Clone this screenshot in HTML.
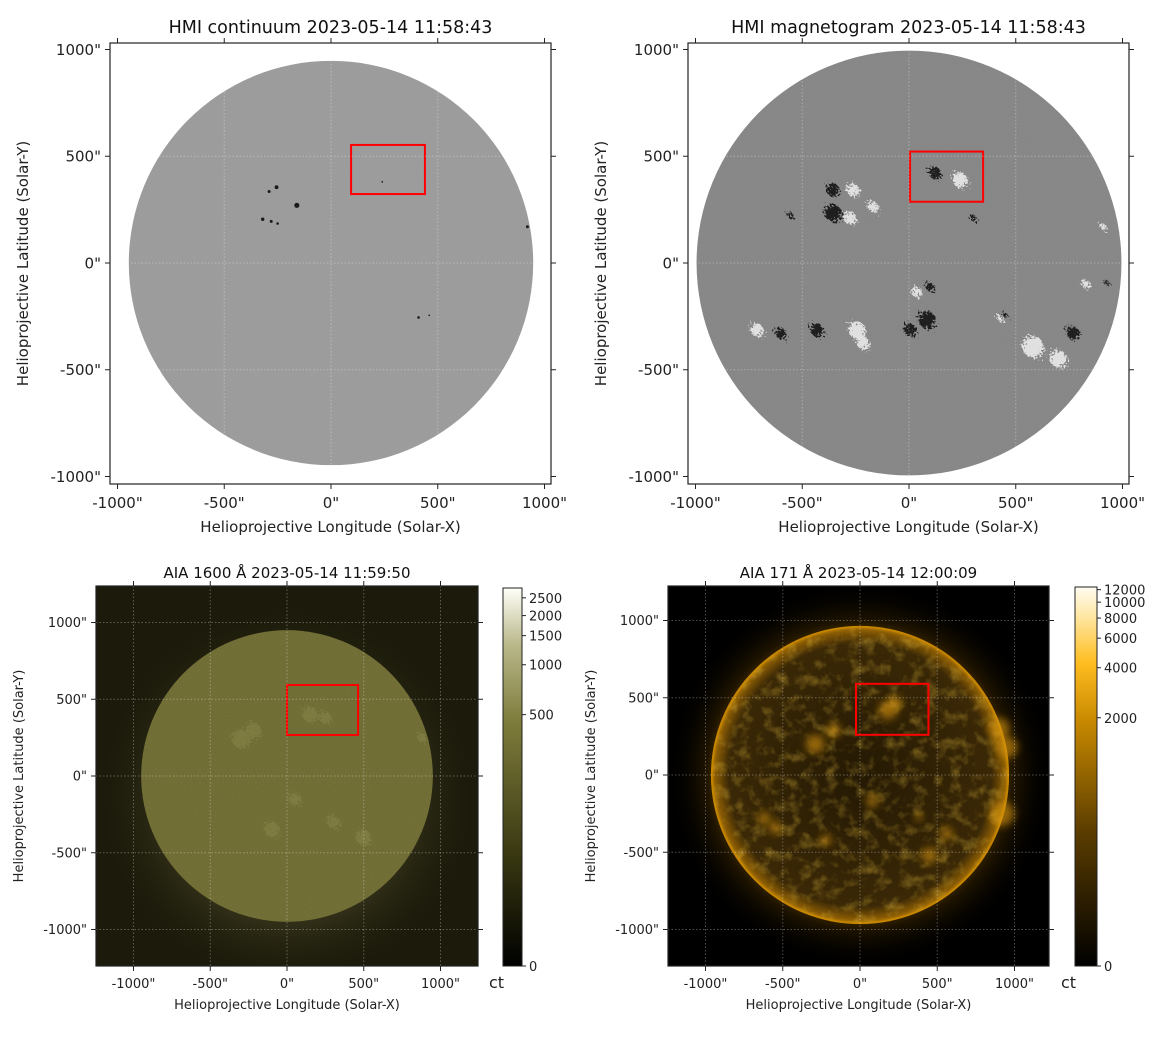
<!DOCTYPE html>
<html><head><meta charset="utf-8">
<style>
html,body{margin:0;padding:0;background:#fff;}
svg{display:block;font-family:"DejaVu Sans","Liberation Sans",sans-serif;}
</style></head>
<body>
<svg id="fig" width="1174" height="1040" viewBox="0 0 1174 1040" xmlns="http://www.w3.org/2000/svg">
<defs>
  <radialGradient id="g171" cx="0.5" cy="0.5" r="0.5">
    <stop offset="0" stop-color="#241904"/>
    <stop offset="0.88" stop-color="#3a2806"/>
    <stop offset="0.97" stop-color="#8a5c04"/>
    <stop offset="1" stop-color="#c88700"/>
  </radialGradient>
  <radialGradient id="g171halo" cx="0.5" cy="0.5" r="0.5">
    <stop offset="0.7" stop-color="#9a6600" stop-opacity="0.7"/>
    <stop offset="0.8" stop-color="#4a3000" stop-opacity="0.4"/>
    <stop offset="1" stop-color="#000" stop-opacity="0"/>
  </radialGradient>
  <radialGradient id="g1600halo" cx="0.5" cy="0.5" r="0.5">
    <stop offset="0.65" stop-color="#35331a" stop-opacity="0.9"/>
    <stop offset="1" stop-color="#1b1a0a" stop-opacity="0"/>
  </radialGradient>
  <linearGradient id="cb1600" x1="0" y1="1" x2="0" y2="0">
    <stop offset="0" stop-color="#000"/>
    <stop offset="0.3" stop-color="#3a3912"/>
    <stop offset="0.65" stop-color="#7f7d3c"/>
    <stop offset="0.85" stop-color="#b9b88a"/>
    <stop offset="1" stop-color="#fffff8"/>
  </linearGradient>
  <linearGradient id="cb171" x1="0" y1="1" x2="0" y2="0">
    <stop offset="0" stop-color="#000"/>
    <stop offset="0.35" stop-color="#5a3c00"/>
    <stop offset="0.65" stop-color="#c98a00"/>
    <stop offset="0.8" stop-color="#ffbd20"/>
    <stop offset="0.92" stop-color="#ffe6a0"/>
    <stop offset="1" stop-color="#fffcf2"/>
  </linearGradient>
  <filter id="blotch" x="-50%" y="-50%" width="200%" height="200%">
    <feTurbulence type="fractalNoise" baseFrequency="0.5" numOctaves="2" seed="3" result="t"/>
    <feDisplacementMap in="SourceGraphic" in2="t" scale="14"/>
  </filter>
  <filter id="soft" x="-50%" y="-50%" width="200%" height="200%"><feGaussianBlur stdDeviation="4"/></filter>
  <filter id="noise" x="0" y="0" width="100%" height="100%">
    <feTurbulence type="fractalNoise" baseFrequency="0.9" numOctaves="1" seed="7" result="t"/>
    <feColorMatrix in="t" type="saturate" values="0" result="g"/>
    <feComponentTransfer in="g" result="a"><feFuncA type="linear" slope="0.18"/></feComponentTransfer>
    <feComposite in="a" in2="SourceGraphic" operator="in"/>
  </filter>
  <filter id="mottle" x="0" y="0" width="100%" height="100%">
    <feTurbulence type="fractalNoise" baseFrequency="0.08" numOctaves="3" seed="11" result="t"/>
    <feColorMatrix in="t" type="matrix" values="0 0 0 0 0.85  0 0 0 0 0.55  0 0 0 0 0.05  1.6 0 0 0 -0.75" result="c"/>
    <feComposite in="c" in2="SourceGraphic" operator="in"/>
  </filter>
</defs>
<g id="root"></g>
</svg>
<script>
// ---- data ----
const tickValues = [-1000, -500, 0, 500, 1000];
const tickLabels = ['-1000"', '-500"', '0"', '500"', '1000"'];
const titles = ['HMI continuum 2023-05-14 11:58:43', 'HMI magnetogram 2023-05-14 11:58:43', 'AIA 1600 Å 2023-05-14 11:59:50', 'AIA 171 Å 2023-05-14 12:00:09'];
const boxHmiC = [94, 323, 440, 553];
const boxHmiM = [5, 287, 347, 522];
const box1600 = [0, 267, 463, 593];
const box171 = [-26, 260, 443, 590];
const spotsX = [-255, -290, -160, -320, -280, -250, 410, 460, 240, 920];
const spotsY = [355, 335, 270, 205, 195, 185, -255, -245, 380, 170];
const spotsR = [9, 7, 12, 8, 7, 6, 6, 4, 4, 7];
const magBlackX = [-356, -356, 122, 84, 5, 98, 450, -431, 768, -557, 927, -600, 300];
const magBlackY = [234, 342, 421, -267, -314, -112, -244, -314, -328, 225, -94, -330, 210];
const magBlackR = [40, 30, 28, 40, 30, 20, 12, 30, 30, 15, 12, 25, 15];
const magWhiteX = [-262, -276, -169, 239, 37, 426, -244, -215, 581, -712, 909, 700, 830];
const magWhiteY = [342, 211, 262, 389, -136, -258, -314, -375, -393, -314, 169, -450, -100];
const magWhiteR = [30, 30, 25, 35, 25, 15, 40, 30, 50, 30, 15, 40, 20];
const cb1600Ticks = [0, 500, 1000, 1500, 2000, 2500];
const cb1600Pos = [0, 0.665, 0.797, 0.874, 0.927, 0.974];
const cb171Ticks = [0, 2000, 4000, 6000, 8000, 10000, 12000];
const cb171Pos = [0, 0.655, 0.787, 0.865, 0.918, 0.96, 0.993];
const feat171X = [-290, -170, 180, 230, 900, 950, 920, -620, -550, -220, 380, 450, 80, 560];
const feat171Y = [200, 290, 420, 470, 300, 180, -250, -280, -340, -420, -270, -520, -170, -380];
const feat171R = [60, 45, 60, 40, 70, 70, 80, 40, 40, 35, 25, 50, 40, 40];
const feat1600X = [-300, -220, 150, 250, 50, 300, -100, 500, 880];
const feat1600Y = [240, 300, 400, 380, -150, -300, -350, -400, 250];
const feat1600R = [60, 50, 50, 40, 40, 40, 50, 50, 30];

const NS = 'http://www.w3.org/2000/svg';
const root = document.getElementById('root');
function el(tag, attrs, parent) {
  const e = document.createElementNS(NS, tag);
  for (const k in attrs) e.setAttribute(k, attrs[k]);
  (parent || root).appendChild(e);
  return e;
}
function txt(s, attrs, parent) { const t = el('text', attrs, parent); t.textContent = s; return t; }

const panels = [
  {cx:331, cy:263, k:0.2135, fx0:110, fx1:551, fy0:43, fy1:484, big:true},
  {cx:909, cy:263, k:0.2135, fx0:688, fx1:1129, fy0:43, fy1:484, big:true},
  {cx:287, cy:776, k:0.1535, fx0:96, fx1:478, fy0:586, fy1:966, big:false},
  {cx:860, cy:775, k:0.1545, fx0:668, fx1:1049, fy0:586, fy1:966, big:false}
];
function X(p, v) { return p.cx + v * p.k; }
function Y(p, v) { return p.cy - v * p.k; }

function drawBox(p, b, name) {
  const r = el('rect', {x:X(p,b[0]), y:Y(p,b[3]), width:(b[2]-b[0])*p.k, height:(b[3]-b[1])*p.k, fill:'none', stroke:'#ff0000', 'stroke-width':2});
  
  
}

function drawAxes(p, i, name) {
  const g = el('g', {});
  
  
  const fs = p.big ? 15 : 13;
  tickValues.forEach(v => {
    const gx = X(p, v), gy = Y(p, v);
    if (gx > p.fx0 && gx < p.fx1) el('line', {x1:gx, x2:gx, y1:p.fy0, y2:p.fy1, stroke:'#fff', 'stroke-opacity':0.3, 'stroke-dasharray':'1.5,2', 'stroke-width':1}, g);
    if (gy > p.fy0 && gy < p.fy1) el('line', {x1:p.fx0, x2:p.fx1, y1:gy, y2:gy, stroke:'#fff', 'stroke-opacity':0.3, 'stroke-dasharray':'1.5,2', 'stroke-width':1}, g);
  });
  el('rect', {x:p.fx0, y:p.fy0, width:p.fx1-p.fx0, height:p.fy1-p.fy0, fill:'none', stroke:'#222', 'stroke-width':1.2}, g);
  tickValues.forEach((v, j) => {
    const gx = X(p, v), gy = Y(p, v);
    if (gx >= p.fx0 - 1 && gx <= p.fx1 + 1) {
      el('line', {x1:gx, x2:gx, y1:p.fy1, y2:p.fy1+5, stroke:'#222'}, g);
      el('line', {x1:gx, x2:gx, y1:p.fy0, y2:p.fy0-5, stroke:'#222'}, g);
      const t = txt(tickLabels[j], {x:gx, y:p.fy1+(p.big?24:22), 'font-size':fs, 'text-anchor':'middle', fill:'#222'}, g);
      
      
    }
    if (gy >= p.fy0 - 1 && gy <= p.fy1 + 1) {
      el('line', {x1:p.fx0, x2:p.fx0-5, y1:gy, y2:gy, stroke:'#222'}, g);
      el('line', {x1:p.fx1, x2:p.fx1+5, y1:gy, y2:gy, stroke:'#222'}, g);
      const t = txt(tickLabels[j], {x:p.fx0-9, y:gy+fs*0.36, 'font-size':fs, 'text-anchor':'end', fill:'#222'}, g);
      
      
    }
  });
  const mid = (p.fx0 + p.fx1) / 2;
  const tt = txt(titles[i], {x:mid, y:p.big ? 33 : 578, 'font-size':p.big ? 17.5 : 15, 'text-anchor':'middle', fill:'#111'}, g);
  
  
  const xl = txt('Helioprojective Longitude (Solar-X)', {x:mid, y:p.big ? 532 : 1009, 'font-size':fs, 'text-anchor':'middle', fill:'#222'}, g);
  
  
  const ly = (p.fy0 + p.fy1) / 2;
  const lx = p.big ? p.fx0 - 82 : p.fx0 - 73;
  const yl = txt('Helioprojective Latitude (Solar-Y)', {x:lx, y:ly, 'font-size':fs, 'text-anchor':'middle', fill:'#222', transform:`rotate(-90 ${lx} ${ly})`}, g);
  
  
}

function clip(p, id) {
  const c = el('clipPath', {id:id});
  el('rect', {x:p.fx0, y:p.fy0, width:p.fx1-p.fx0, height:p.fy1-p.fy0}, c);
  return `url(#${id})`;
}

// ---- Panel 1: HMI continuum ----
(function(){
  const p = panels[0];
  const g = el('g', {});
  
  
  el('circle', {cx:p.cx, cy:p.cy, r:947*p.k, fill:'#9b9b9b'}, g);
  el('circle', {cx:p.cx, cy:p.cy, r:947*p.k, fill:'#fff', filter:'url(#noise)', opacity:0.5}, g);
  spotsX.forEach((v, j) => {
    const s = el('circle', {cx:X(p,v), cy:Y(p,spotsY[j]), r:spotsR[j]*p.k, fill:'#1a1a1a'}, g);
    
    
  });
  drawBox(p, boxHmiC, 'hmi-continuum-roi-box');
  drawAxes(p, 0, 'hmi-continuum-axes');
})();

// ---- Panel 2: HMI magnetogram ----
(function(){
  const p = panels[1];
  const g = el('g', {});
  
  
  el('circle', {cx:p.cx, cy:p.cy, r:995*p.k, fill:'#858585'}, g);
  el('circle', {cx:p.cx, cy:p.cy, r:995*p.k, fill:'#fff', filter:'url(#noise)', opacity:0.6}, g);
  magWhiteX.forEach((v, j) => {
    const s = el('circle', {cx:X(p,v), cy:Y(p,magWhiteY[j]), r:magWhiteR[j]*p.k, fill:'#f0f0f0', filter:'url(#blotch)', opacity:0.85}, g);
    
    
  });
  magBlackX.forEach((v, j) => {
    const s = el('circle', {cx:X(p,v), cy:Y(p,magBlackY[j]), r:magBlackR[j]*p.k, fill:'#0a0a0a', filter:'url(#blotch)', opacity:0.85}, g);
    
    
  });
  drawBox(p, boxHmiM, 'hmi-magnetogram-roi-box');
  drawAxes(p, 1, 'hmi-magnetogram-axes');
})();

function colorbar(x, y0, y1, w, grad, ticks, pos, name) {
  const g = el('g', {});
  
  
  el('rect', {x:x, y:y0, width:w, height:y1-y0, fill:`url(#${grad})`, stroke:'#222', 'stroke-width':1}, g);
  ticks.forEach((t, j) => {
    const yy = y1 - pos[j] * (y1 - y0);
    el('line', {x1:x+w, x2:x+w+4, y1:yy, y2:yy, stroke:'#222'}, g);
    const l = txt(String(t), {x:x+w+7, y:yy+5, 'font-size':13, fill:'#222'}, g);
    
    
  });
  const u = txt('ct', {x:x-14, y:y1+22, 'font-size':16, fill:'#222'}, g);
  
  
}

// ---- Panel 3: AIA 1600 ----
(function(){
  const p = panels[2];
  const g = el('g', {'clip-path':clip(p, 'c1600')});
  
  
  el('rect', {x:p.fx0, y:p.fy0, width:p.fx1-p.fx0, height:p.fy1-p.fy0, fill:'#1c1b0b'}, g);
  el('circle', {cx:p.cx, cy:p.cy+20, r:1250*p.k, fill:'url(#g1600halo)'}, g);
  el('circle', {cx:p.cx, cy:p.cy, r:950*p.k, fill:'#6d6a2f'}, g);
  el('circle', {cx:p.cx, cy:p.cy, r:950*p.k, fill:'#fff', filter:'url(#noise)', opacity:0.6}, g);
  feat1600X.forEach((v, j) => {
    const s = el('circle', {cx:X(p,v), cy:Y(p,feat1600Y[j]), r:feat1600R[j]*p.k, fill:'#87854a', filter:'url(#blotch)', opacity:0.6}, g);
    
    
  });
  drawBox(p, box1600, 'aia-1600-roi-box');
  drawAxes(p, 2, 'aia-1600-axes');
  colorbar(503, 588, 966, 19, 'cb1600', cb1600Ticks, cb1600Pos, 'aia-1600-colorbar');
})();

// ---- Panel 4: AIA 171 ----
(function(){
  const p = panels[3];
  const g = el('g', {'clip-path':clip(p, 'c171')});
  
  
  el('rect', {x:p.fx0, y:p.fy0, width:p.fx1-p.fx0, height:p.fy1-p.fy0, fill:'#000'}, g);
  el('circle', {cx:p.cx, cy:p.cy, r:1250*p.k, fill:'url(#g171halo)'}, g);
  el('circle', {cx:p.cx, cy:p.cy, r:965*p.k, fill:'url(#g171)'}, g);
  el('circle', {cx:p.cx, cy:p.cy, r:960*p.k, fill:'#000', filter:'url(#mottle)', opacity:0.55}, g);
  el('circle', {cx:p.cx, cy:p.cy, r:958*p.k, fill:'none', stroke:'#c98800', 'stroke-width':1.8, opacity:0.7}, g);
  feat171X.forEach((v, j) => {
    const s = el('circle', {cx:X(p,v), cy:Y(p,feat171Y[j]), r:feat171R[j]*p.k, fill:'#d89510', filter:'url(#soft)', opacity:0.6}, g);
    
    
  });
  drawBox(p, box171, 'aia-171-roi-box');
  drawAxes(p, 3, 'aia-171-axes');
  colorbar(1075, 587, 966, 22, 'cb171', cb171Ticks, cb171Pos, 'aia-171-colorbar');
})();
</script>
</body></html>
